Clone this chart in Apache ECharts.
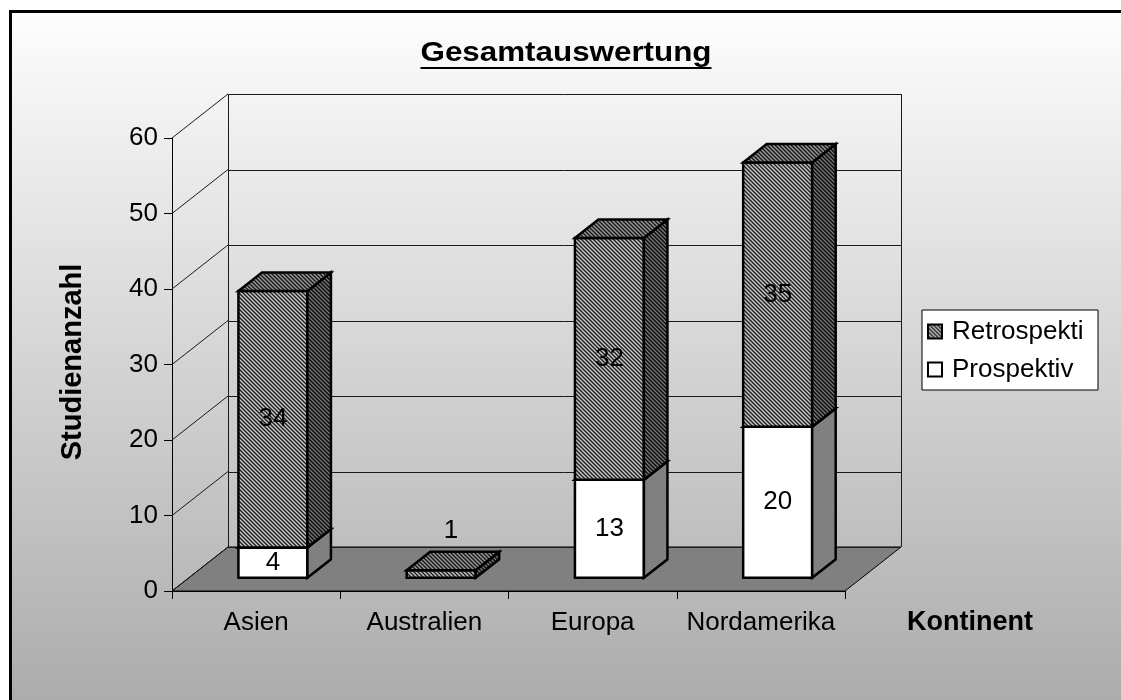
<!DOCTYPE html>
<html>
<head>
<meta charset="utf-8">
<script src="https://cdn.jsdelivr.net/npm/echarts@6/dist/echarts.min.js"></script>
<style>
  html, body { margin: 0; padding: 0; background: #fff; }
  #chart { width: 1121px; height: 700px; }
</style>
</head>
<body>
<div id="chart"></div>
<script>
// Study counts per continent, stacked: prospective at the bottom, retrospective on top
const categories = ['Asien', 'Australien', 'Europa', 'Nordamerika'];
const prospektiv = [4, 0, 13, 20];
const retrospektiv = [34, 1, 32, 35];
const yTicks = [0, 10, 20, 30, 40, 50, 60];
const seriesNames = { retro: 'Retrospektiv', pro: 'Prospektiv' };

const FONT = "'Liberation Sans', Arial, Helvetica, sans-serif";

// Oblique "3D" box: offset of the back wall relative to the front plane
const WALL_DX = 56, WALL_DY = -44;
const BAR_FRONT = 0.3;   // bar front face position inside the depth
const BAR_DEPTH = 0.42;  // bar thickness as a fraction of the depth
const BAR_WIDTH = 0.41;  // bar face width as a fraction of a category band

// fine diagonal hatch used for the retrospective bars
function hatch(light, mid, dark) {
  const c = document.createElement('canvas');
  c.width = 4; c.height = 4;
  const ctx = c.getContext('2d');
  const cols = [light, mid, dark, mid];
  for (let y = 0; y < 4; y++) {
    for (let x = 0; x < 4; x++) {
      ctx.fillStyle = cols[((x - y) % 4 + 4) % 4];
      ctx.fillRect(x, y, 1, 1);
    }
  }
  return { image: c, repeat: 'repeat' };
}

const retroFaces = {
  front: hatch('#cccccc', '#707070', '#222222'),
  side: hatch('#7a7a7a', '#3a3a3a', '#101010'),
  top: hatch('#9a9a9a', '#555555', '#1a1a1a')
};
const proFaces = { front: '#ffffff', side: '#808080', top: '#c0c0c0' };

function px(v) { return Math.round(v) + 0.5; }

// back wall, left side wall, floor and gridlines
function renderWalls(params, api) {
  const cs = params.coordSys;
  const x0 = cs.x, x1 = cs.x + cs.width;
  const yTop = cs.y, yBot = cs.y + cs.height;
  const y = api.coord([0, api.value(1)])[1];
  const lineStyle = { stroke: '#1a1a1a', lineWidth: 1 };
  const children = [];
  if (params.dataIndex === 0) {
    children.push({
      type: 'polygon',
      shape: { points: [[x0, yBot], [x1, yBot], [x1 + WALL_DX, yBot + WALL_DY], [x0 + WALL_DX, yBot + WALL_DY]] },
      style: { fill: '#808080', stroke: '#000', lineWidth: 1 }
    });
    children.push({
      type: 'line',
      shape: { x1: px(x0 + WALL_DX), y1: yTop + WALL_DY, x2: px(x0 + WALL_DX), y2: yBot + WALL_DY },
      style: lineStyle
    });
    children.push({
      type: 'line',
      shape: { x1: px(x1 + WALL_DX), y1: yTop + WALL_DY, x2: px(x1 + WALL_DX), y2: yBot + WALL_DY },
      style: lineStyle
    });
  }
  children.push({
    type: 'line',
    shape: { x1: x0 + WALL_DX, y1: px(y + WALL_DY), x2: x1 + WALL_DX, y2: px(y + WALL_DY) },
    style: lineStyle
  });
  children.push({
    type: 'line',
    shape: { x1: x0, y1: y, x2: x0 + WALL_DX, y2: y + WALL_DY },
    style: lineStyle
  });
  return { type: 'group', children: children };
}

function barRenderer(faces) {
  return function (params, api) {
    const idx = api.value(0);
    const base = api.value(1);
    const val = api.value(2);
    if (!val) return null;
    const band = api.size([1, 0])[0];
    const w = band * BAR_WIDTH;
    const p0 = api.coord([idx, base]);
    const p1 = api.coord([idx, base + val]);
    const fx = WALL_DX * BAR_FRONT, fy = WALL_DY * BAR_FRONT;
    const dx = WALL_DX * BAR_DEPTH, dy = WALL_DY * BAR_DEPTH;
    const xl = p0[0] + fx - w / 2, xr = xl + w;
    const yb = p0[1] + fy, yt = p1[1] + fy;
    const edge = { stroke: '#000', lineWidth: 2.5, lineJoin: 'miter' };
    const inside = (yb - yt) > 30;
    return {
      type: 'group',
      children: [
        { type: 'polygon', shape: { points: [[xl, yb], [xr, yb], [xr, yt], [xl, yt]] },
          style: Object.assign({ fill: faces.front }, edge) },
        { type: 'polygon', shape: { points: [[xr, yb], [xr + dx, yb + dy], [xr + dx, yt + dy], [xr, yt]] },
          style: Object.assign({ fill: faces.side }, edge) },
        { type: 'polygon', shape: { points: [[xl, yt], [xr, yt], [xr + dx, yt + dy], [xl + dx, yt + dy]] },
          style: Object.assign({ fill: faces.top }, edge) },
        { type: 'text', z2: 20,
          style: {
            text: String(val),
            x: inside ? (xl + xr) / 2 : (xl + xr + dx) / 2 - 2,
            y: inside ? (yb + yt) / 2 : yt + dy - 21,
            align: 'center', verticalAlign: 'middle',
            font: '26px ' + FONT, fill: '#000'
          } }
      ]
    };
  };
}

// title underline sized from the rendered title width
const TITLE = 'Gesamtauswertung';
const TITLE_FONT = 'bold 28px ' + FONT;
const TITLE_SX = 1.12;
const measure = document.createElement('canvas').getContext('2d');
measure.font = TITLE_FONT;
const titleW = measure.measureText(TITLE).width * TITLE_SX;
const TITLE_CX = 566;

const chart = echarts.init(document.getElementById('chart'), null, { renderer: 'canvas' });
chart.setOption({
  animation: false,
  backgroundColor: {
    type: 'linear', x: 0, y: 0, x2: 0, y2: 1,
    colorStops: [{ offset: 0, color: '#ffffff' }, { offset: 0.02, color: '#fdfdfd' }, { offset: 1, color: '#acacac' }]
  },
  grid: { left: 172, top: 138, width: 673, height: 453, containLabel: false },
  xAxis: {
    type: 'category',
    data: categories,
    boundaryGap: true,
    axisLine: { lineStyle: { color: '#000', width: 1 } },
    axisTick: { show: true, interval: 0, length: 8, lineStyle: { color: '#000' } },
    axisLabel: { interval: 0, margin: 19, fontFamily: FONT, fontSize: 26, color: '#000' },
    splitLine: { show: false }
  },
  yAxis: {
    type: 'value',
    min: 0, max: 60, interval: 10,
    axisLine: { show: true, lineStyle: { color: '#000', width: 1 } },
    axisTick: { show: true, length: 8, lineStyle: { color: '#000' } },
    axisLabel: { margin: 14, fontFamily: FONT, fontSize: 26, color: '#000' },
    splitLine: { show: false }
  },
  legend: {
    orient: 'vertical',
    left: 922, top: 310,
    backgroundColor: '#fff',
    borderColor: '#000', borderWidth: 1, borderRadius: 0,
    padding: [8, 10, 7, 5],
    itemWidth: 24, itemHeight: 14, itemGap: 11,
    icon: 'path://M0,0H14V14H0Z',
    selectedMode: false,
    textStyle: { fontFamily: FONT, fontSize: 26, color: '#000', lineHeight: 27,
                 width: 136, overflow: 'truncate', ellipsis: '' },
    data: [
      { name: seriesNames.retro, itemStyle: { color: retroFaces.front, borderColor: '#000', borderWidth: 2 } },
      { name: seriesNames.pro, itemStyle: { color: '#fff', borderColor: '#000', borderWidth: 2 } }
    ]
  },
  graphic: [
    { type: 'rect', shape: { x: 0, y: 0, width: 9, height: 700 }, style: { fill: '#fff' }, silent: true },
    { type: 'rect', shape: { x: 0, y: 0, width: 1121, height: 10 }, style: { fill: '#fff' }, silent: true },
    { type: 'polyline', shape: { points: [[10.5, 700], [10.5, 11.5], [1121, 11.5]] },
      style: { stroke: '#000', lineWidth: 3, fill: null }, silent: true },
    { type: 'text', x: TITLE_CX, y: 53, scaleX: TITLE_SX,
      style: { text: TITLE, font: TITLE_FONT, fill: '#000', align: 'center', verticalAlign: 'middle' } },
    { type: 'line', shape: { x1: TITLE_CX - titleW / 2, y1: 68, x2: TITLE_CX + titleW / 2, y2: 68 },
      style: { stroke: '#000', lineWidth: 2 } },
    { type: 'text', x: 73, y: 362, rotation: Math.PI / 2,
      style: { text: 'Studienanzahl', font: 'bold 29px ' + FONT, fill: '#000', align: 'center', verticalAlign: 'middle' } },
    { type: 'text', x: 907, y: 623,
      style: { text: 'Kontinent', font: 'bold 27px ' + FONT, fill: '#000', align: 'left', verticalAlign: 'middle' } }
  ],
  series: [
    {
      type: 'custom', name: 'walls', z: 1, silent: true,
      renderItem: renderWalls,
      encode: { x: 0, y: 1 },
      data: yTicks.map(function (v) { return [0, v]; })
    },
    {
      type: 'custom', name: seriesNames.pro, z: 3, silent: true,
      renderItem: barRenderer(proFaces),
      encode: { x: 0, y: 2 },
      itemStyle: { color: '#fff', borderColor: '#000', borderWidth: 2 },
      data: categories.map(function (c, i) { return [i, 0, prospektiv[i]]; })
    },
    {
      type: 'custom', name: seriesNames.retro, z: 4, silent: true,
      renderItem: barRenderer(retroFaces),
      encode: { x: 0, y: 2 },
      itemStyle: { color: retroFaces.front, borderColor: '#000', borderWidth: 2 },
      data: categories.map(function (c, i) { return [i, prospektiv[i], retrospektiv[i]]; })
    }
  ]
});
</script>
</body>
</html>
